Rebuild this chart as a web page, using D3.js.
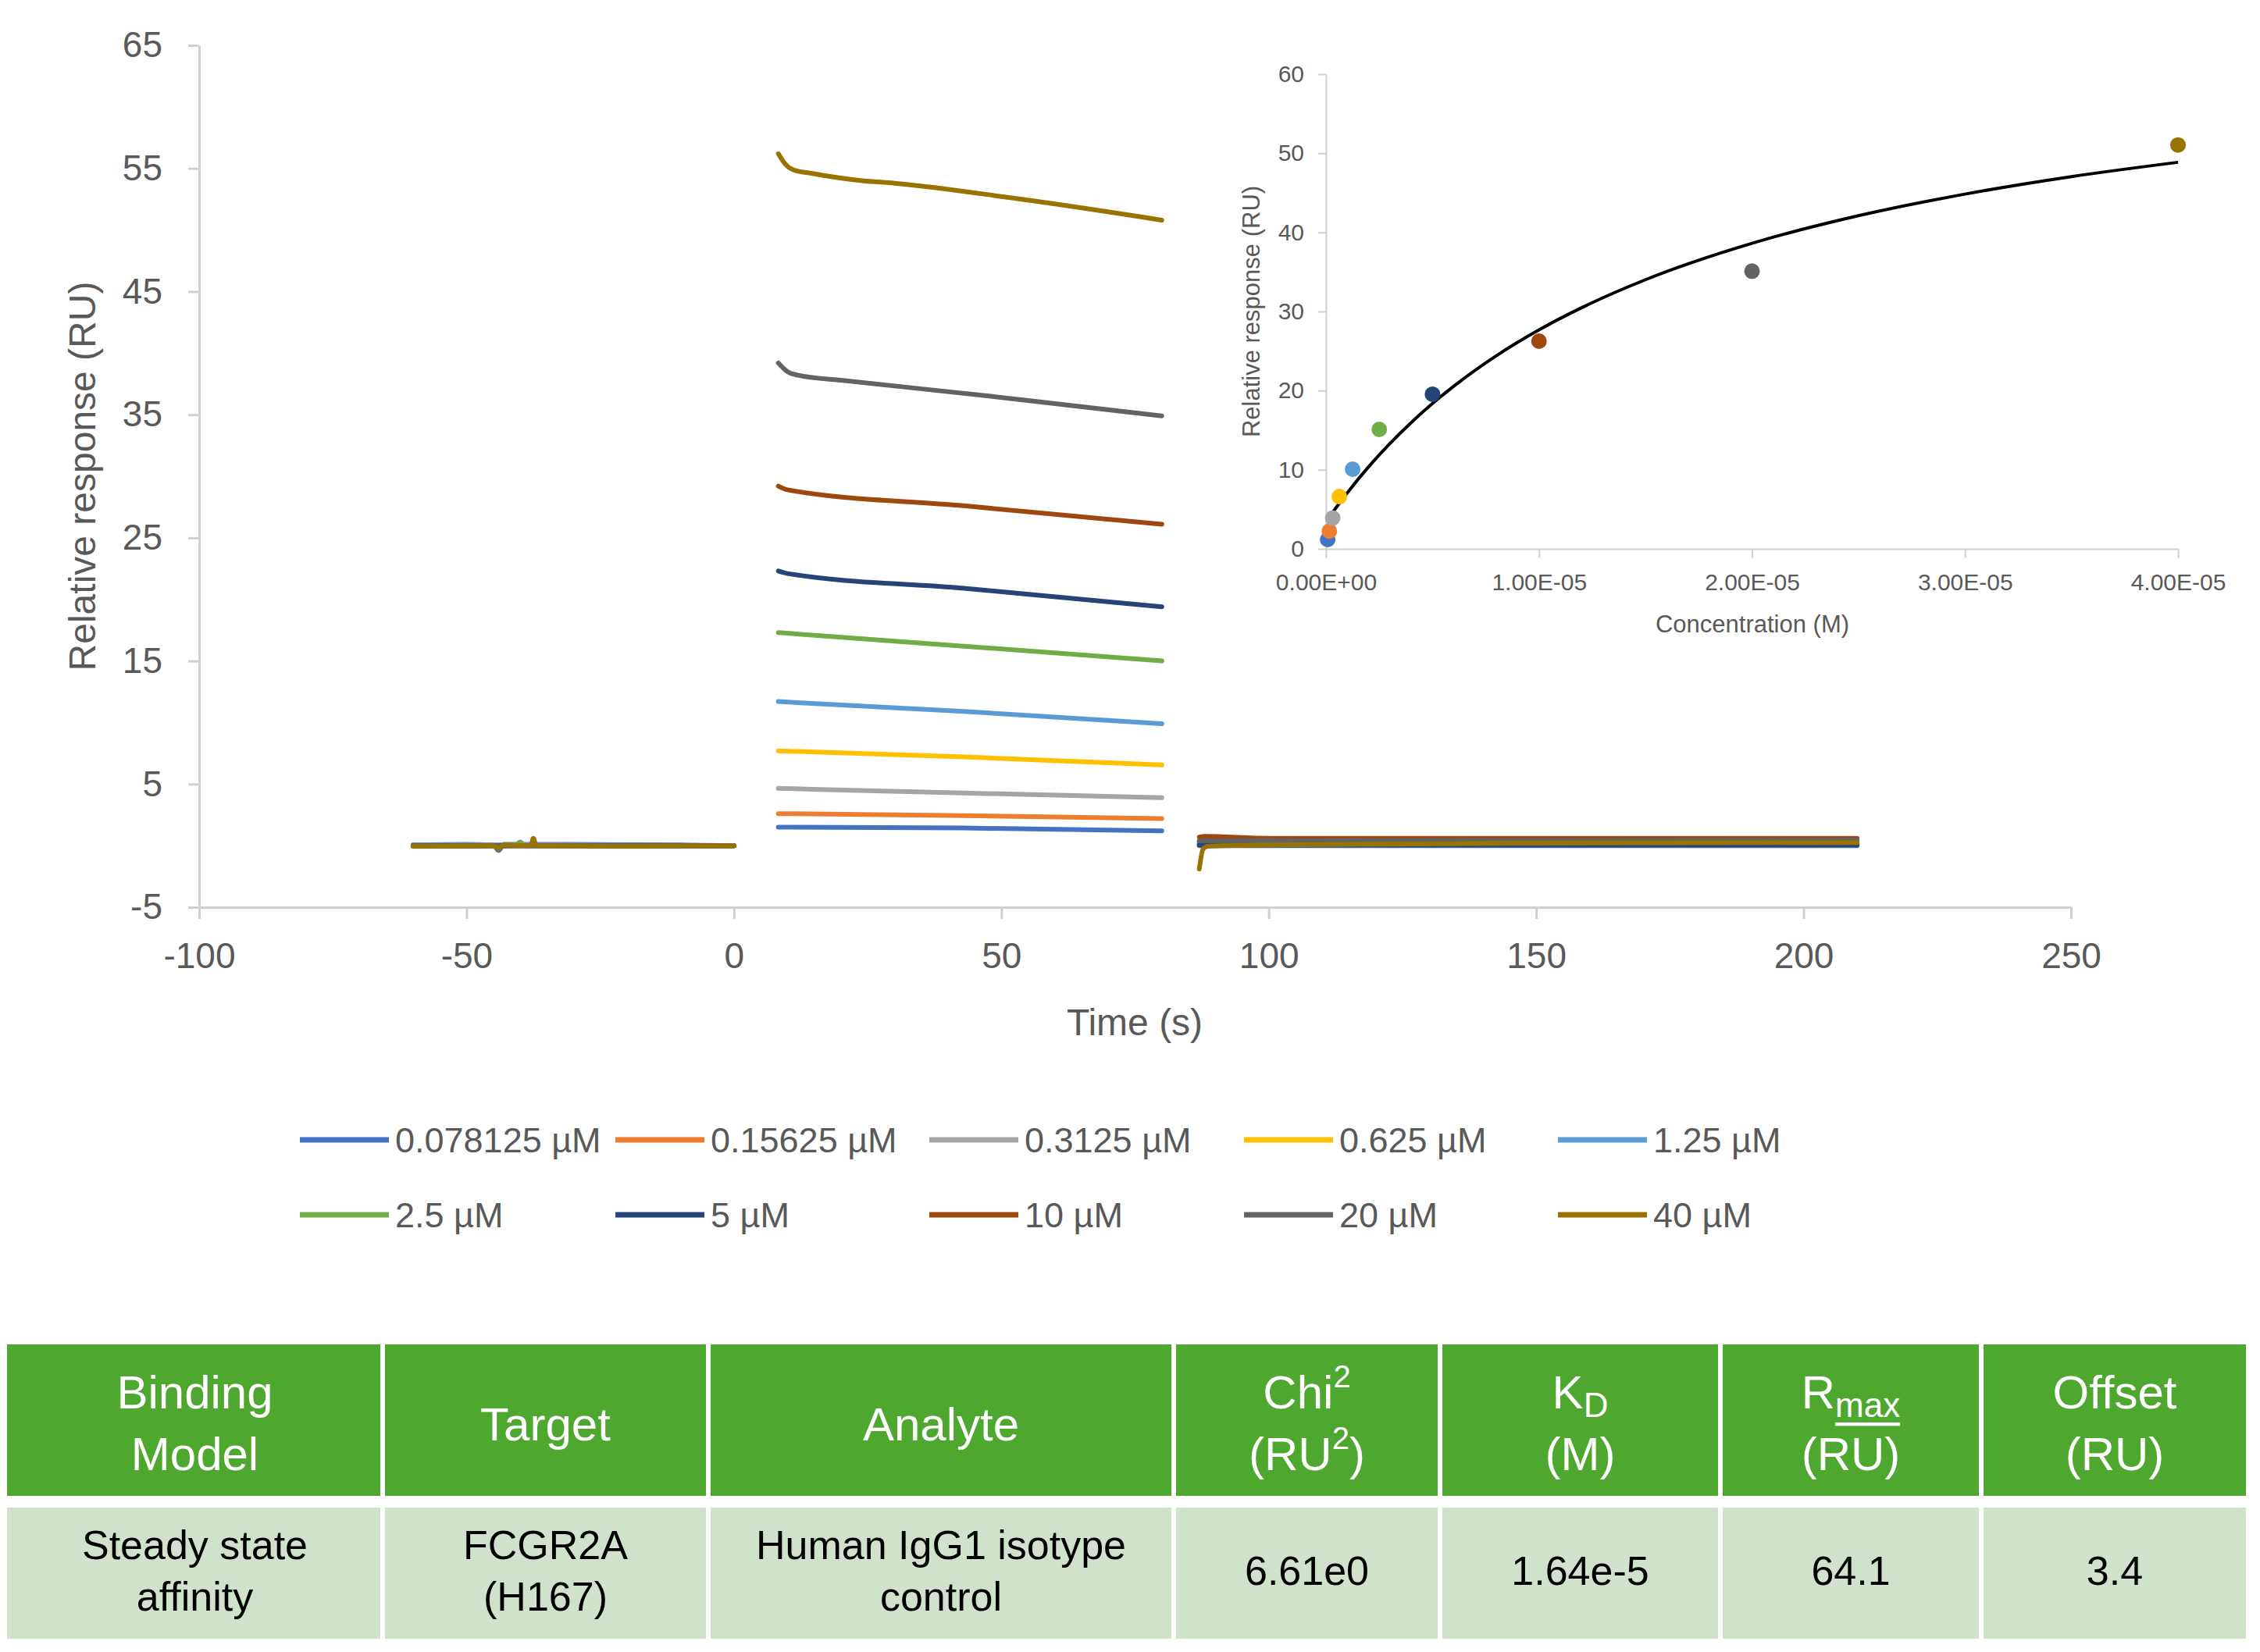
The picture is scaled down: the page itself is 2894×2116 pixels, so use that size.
<!DOCTYPE html>
<html><head><meta charset="utf-8">
<script src="https://cdn.jsdelivr.net/npm/d3@7"></script>
<style>body{margin:0;background:#fff}svg{display:block}</style>
</head><body>
<script>
// ---------- DATA ----------
const concLabels = ["0.078125 µM","0.15625 µM","0.3125 µM","0.625 µM","1.25 µM","2.5 µM","5 µM","10 µM","20 µM","40 µM"];
const concM = [0.078125e-6,0.15625e-6,0.3125e-6,0.625e-6,1.25e-6,2.5e-6,5e-6,10e-6,20e-6,40e-6];
const colors = ["#4472C4","#ED7D31","#A5A5A5","#FFC000","#5B9BD5","#70AD47","#264478","#9E480E","#636363","#997300"];

// baseline phase (time s, RU)
const baseline = [
  [[-60,0.05],[-50,0.1],[-45,0.05],[-44,-0.4],[-43,0.1],[-30,0.1],[-10,0.05],[0,0.0]],
  [[-60,0.0],[-50,-0.05],[-42,0.0],[-20,0.0],[0,0.0]],
  [[-60,0.0],[-40,0.05],[-20,0.0],[0,0.0]],
  [[-60,0.0],[-40,0.0],[0,0.0]],
  [[-60,0.05],[-30,0.05],[0,0.0]],
  [[-60,0.0],[-41,0.0],[-40,0.3],[-39,0.0],[0,0.0]],
  [[-60,0.0],[-30,0.0],[0,0.0]],
  [[-60,0.0],[-30,0.0],[0,0.0]],
  [[-60,0.0],[-30,0.0],[0,0.0]],
  [[-60,-0.05],[-45,0.0],[-44,-0.25],[-43,0.05],[-38,0.0],[-37.5,0.6],[-37,0.0],[-20,-0.05],[0,0.0]]
];
// association phase
const association = [
  [[8.3,1.5],[43,1.43],[80,1.2]],
  [[8.3,2.6],[43,2.44],[80,2.2]],
  [[8.3,4.65],[43,4.27],[80,3.9]],
  [[8.3,7.7],[43,7.2],[80,6.55]],
  [[8.3,11.7],[43,10.9],[80,9.9]],
  [[8.3,17.3],[43,16.2],[80,15.0]],
  [[8.3,22.3],[10,22.1],[43,20.9],[80,19.4]],
  [[8.3,29.2],[10,28.9],[43,27.6],[80,26.1]],
  [[8.3,39.2],[10,38.5],[12,38.2],[20,37.8],[48,36.5],[80,34.9]],
  [[8.3,56.2],[9.5,55.4],[11,54.9],[14.5,54.6],[24,54.0],[30,53.8],[52,52.6],[57,52.3],[80,50.8]]
];
// dissociation phase
const dissociation = [
  [[87,0.0],[120,0.0],[180,0.0],[210,0.0]],
  [[87,0.3],[120,0.3],[210,0.3]],
  [[87,0.2],[120,0.2],[210,0.25]],
  [[87,0.25],[150,0.25],[210,0.3]],
  [[87,0.1],[150,0.1],[210,0.1]],
  [[87,0.2],[150,0.2],[210,0.2]],
  [[87,0.05],[150,0.05],[210,0.05]],
  [[87,0.7],[88,0.75],[100,0.6],[150,0.6],[210,0.6]],
  [[87,0.4],[100,0.4],[210,0.45]],
  [[87,-1.9],[87.7,-0.3],[88.5,-0.05],[100,0.05],[150,0.2],[210,0.25]]
];

// inset steady-state points (RU)
const steadyRU = [1.18,2.25,3.9,6.6,10.07,15.1,19.55,26.25,35.1,51.05];
// fitted curve (concentration M, RU)
const fitConc = [0.15e-6,0.5e-6,1e-6,2e-6,3e-6,4e-6,5e-6,6e-6,8e-6,10e-6,12e-6,15e-6,20e-6,25e-6,30e-6,35e-6,40e-6];
const fitRU   = [3.98,5.30,7.08,10.37,13.31,15.97,18.38,20.57,24.42,27.68,30.48,34.02,38.62,42.11,44.84,47.05,48.86];

const mainYTicks = [-5,5,15,25,35,45,55,65];
const mainXTicks = [-100,-50,0,50,100,150,200,250];
const insetYTicks = [0,10,20,30,40,50,60];
const insetXTicks = [0,1e-5,2e-5,3e-5,4e-5];
const insetXTickLabels = ["0.00E+00","1.00E-05","2.00E-05","3.00E-05","4.00E-05"];

const tableHeader = [
  [[{t:"Binding"}],[{t:"Model"}]],
  [[{t:"Target"}]],
  [[{t:"Analyte"}]],
  [[{t:"Chi"},{t:"2",sup:true}],[{t:"(RU"},{t:"2",sup:true},{t:")"}]],
  [[{t:"K"},{t:"D",sub:true}],[{t:"(M)"}]],
  [[{t:"R"},{t:"max",sub:true,u:true}],[{t:"(RU)"}]],
  [[{t:"Offset"}],[{t:"(RU)"}]]
];
const tableRow = [["Steady state","affinity"],["FCGR2A","(H167)"],["Human IgG1 isotype","control"],["6.61e0"],["1.64e-5"],["64.1"],["3.4"]];

// ---------- DRAW ----------
const W=2894,H=2116;
const FONT="'Liberation Sans', Arial, sans-serif";
const TXT="#595959", AX="#d0d0d0";
const svg=d3.select("body").append("svg").attr("width",W).attr("height",H).style("font-family",FONT);

// main chart
const x=d3.scaleLinear().domain([-100,250]).range([255,2652]);
const y=d3.scaleLinear().domain([-5,65]).range([1162,58]);
const plain=d=>String(d);

function styleAxis(g,fs){
  g.select(".domain").attr("stroke",AX).attr("stroke-width",3);
  g.selectAll(".tick line").attr("stroke",AX).attr("stroke-width",3);
  g.selectAll(".tick text").attr("fill",TXT).style("font-size",fs+"px").style("font-family",FONT);
}
const gy=svg.append("g").attr("transform","translate(255,0)")
  .call(d3.axisLeft(y).tickValues(mainYTicks).tickFormat(plain).tickSize(14).tickSizeOuter(0).tickPadding(33));
styleAxis(gy,46);
const gx=svg.append("g").attr("transform","translate(0,1162)")
  .call(d3.axisBottom(x).tickValues(mainXTicks).tickFormat(plain).tickSize(15).tickSizeOuter(0).tickPadding(30));
styleAxis(gx,46);

svg.append("text").attr("x",1453).attr("y",1309).attr("text-anchor","middle").attr("dominant-baseline","central")
  .attr("fill",TXT).style("font-size","48px").text("Time (s)");
svg.append("text").attr("transform","translate(105,610) rotate(-90)").attr("text-anchor","middle").attr("dominant-baseline","central")
  .attr("fill",TXT).style("font-size","48px").text("Relative response (RU)");

const line=d3.line().x(d=>x(d[0])).y(d=>y(d[1])).curve(d3.curveMonotoneX);
const gl=svg.append("g");
[baseline,association,dissociation].forEach(phase=>{
  phase.forEach((pts,i)=>{
    gl.append("path").attr("d",line(pts)).attr("fill","none").attr("stroke",colors[i])
      .attr("stroke-width",6).attr("stroke-linecap","round").attr("stroke-linejoin","round");
  });
});

// inset
const xi=d3.scaleLinear().domain([0,4e-5]).range([1698,2789]);
const yi=d3.scaleLinear().domain([0,60]).range([703,95]);
const giy=svg.append("g").attr("transform","translate(1698,0)")
  .call(d3.axisLeft(yi).tickValues(insetYTicks).tickFormat(plain).tickSize(10).tickSizeOuter(0).tickPadding(18));
styleAxis(giy,30);
giy.select(".domain").attr("stroke-width",2); giy.selectAll(".tick line").attr("stroke-width",2);
const gix=svg.append("g").attr("transform","translate(0,703)")
  .call(d3.axisBottom(xi).tickValues(insetXTicks).tickFormat((d,i)=>insetXTickLabels[i]).tickSize(12).tickSizeOuter(0).tickPadding(20));
styleAxis(gix,30);
gix.select(".domain").attr("stroke-width",2); gix.selectAll(".tick line").attr("stroke-width",2);

svg.append("text").attr("x",2244).attr("y",799).attr("text-anchor","middle").attr("dominant-baseline","central")
  .attr("fill",TXT).style("font-size","31px").text("Concentration (M)");
svg.append("text").attr("transform","translate(1602,399) rotate(-90)").attr("text-anchor","middle").attr("dominant-baseline","central")
  .attr("fill",TXT).style("font-size","31px").text("Relative response (RU)");

const fitLine=d3.line().x(d=>xi(d[0])).y(d=>yi(d[1])).curve(d3.curveMonotoneX);
svg.append("path").attr("d",fitLine(fitConc.map((c,i)=>[c,fitRU[i]]))).attr("fill","none")
  .attr("stroke","#000").attr("stroke-width",4);
svg.append("g").selectAll("circle").data(concM).join("circle")
  .attr("cx",d=>xi(d)).attr("cy",(d,i)=>yi(steadyRU[i])).attr("r",10).attr("fill",(d,i)=>colors[i]);

// legend
const legX=[384,788,1190,1593,1995], legY=[1460,1556];
const lg=svg.append("g");
concLabels.forEach((lab,i)=>{
  const cx=legX[i%5], cy=legY[Math.floor(i/5)];
  lg.append("line").attr("x1",cx).attr("x2",cx+114).attr("y1",cy).attr("y2",cy)
    .attr("stroke",colors[i]).attr("stroke-width",7);
  lg.append("text").attr("x",cx+122).attr("y",cy).attr("dominant-baseline","central")
    .attr("fill",TXT).style("font-size","45px").text(lab);
});

// table
const colB=[9,490,907,1503,1844,2203,2537,2879];
const hdrY=[1722,1916], rowY=[1931,2099];
const tg=svg.append("g");
for(let c=0;c<7;c++){
  const x0=colB[c]+(c===0?0:3), x1=colB[c+1]-3, cx=(colB[c]+colB[c+1])/2;
  tg.append("rect").attr("x",x0).attr("y",hdrY[0]).attr("width",x1-x0).attr("height",hdrY[1]-hdrY[0]).attr("fill","#4EA72E");
  tg.append("rect").attr("x",x0).attr("y",rowY[0]).attr("width",x1-x0).attr("height",rowY[1]-rowY[0]).attr("fill","#D0E1CC");
  const hl=tableHeader[c];
  const hys = hl.length===2?[1783,1862]:[1824];
  hl.forEach((segs,li)=>{
    const t=tg.append("text").attr("x",cx).attr("y",hys[li]).attr("text-anchor","middle").attr("dominant-baseline","central")
      .attr("fill","#fff").style("font-size","60px");
    segs.forEach(s=>{
      const sp=t.append("tspan").text(s.t);
      if(s.sup){sp.style("font-size","40px").attr("baseline-shift","20px");}
      if(s.sub){sp.style("font-size","44px").attr("baseline-shift","-16px");}
      if(s.u){sp.attr("text-decoration","underline");}
    });
  });
  const dl=tableRow[c];
  const dys = dl.length===2?[1979,2045]:[2012];
  dl.forEach((s,li)=>{
    tg.append("text").attr("x",cx).attr("y",dys[li]).attr("text-anchor","middle").attr("dominant-baseline","central")
      .attr("fill","#000").style("font-size","52px").text(s);
  });
}
</script>
</body></html>
